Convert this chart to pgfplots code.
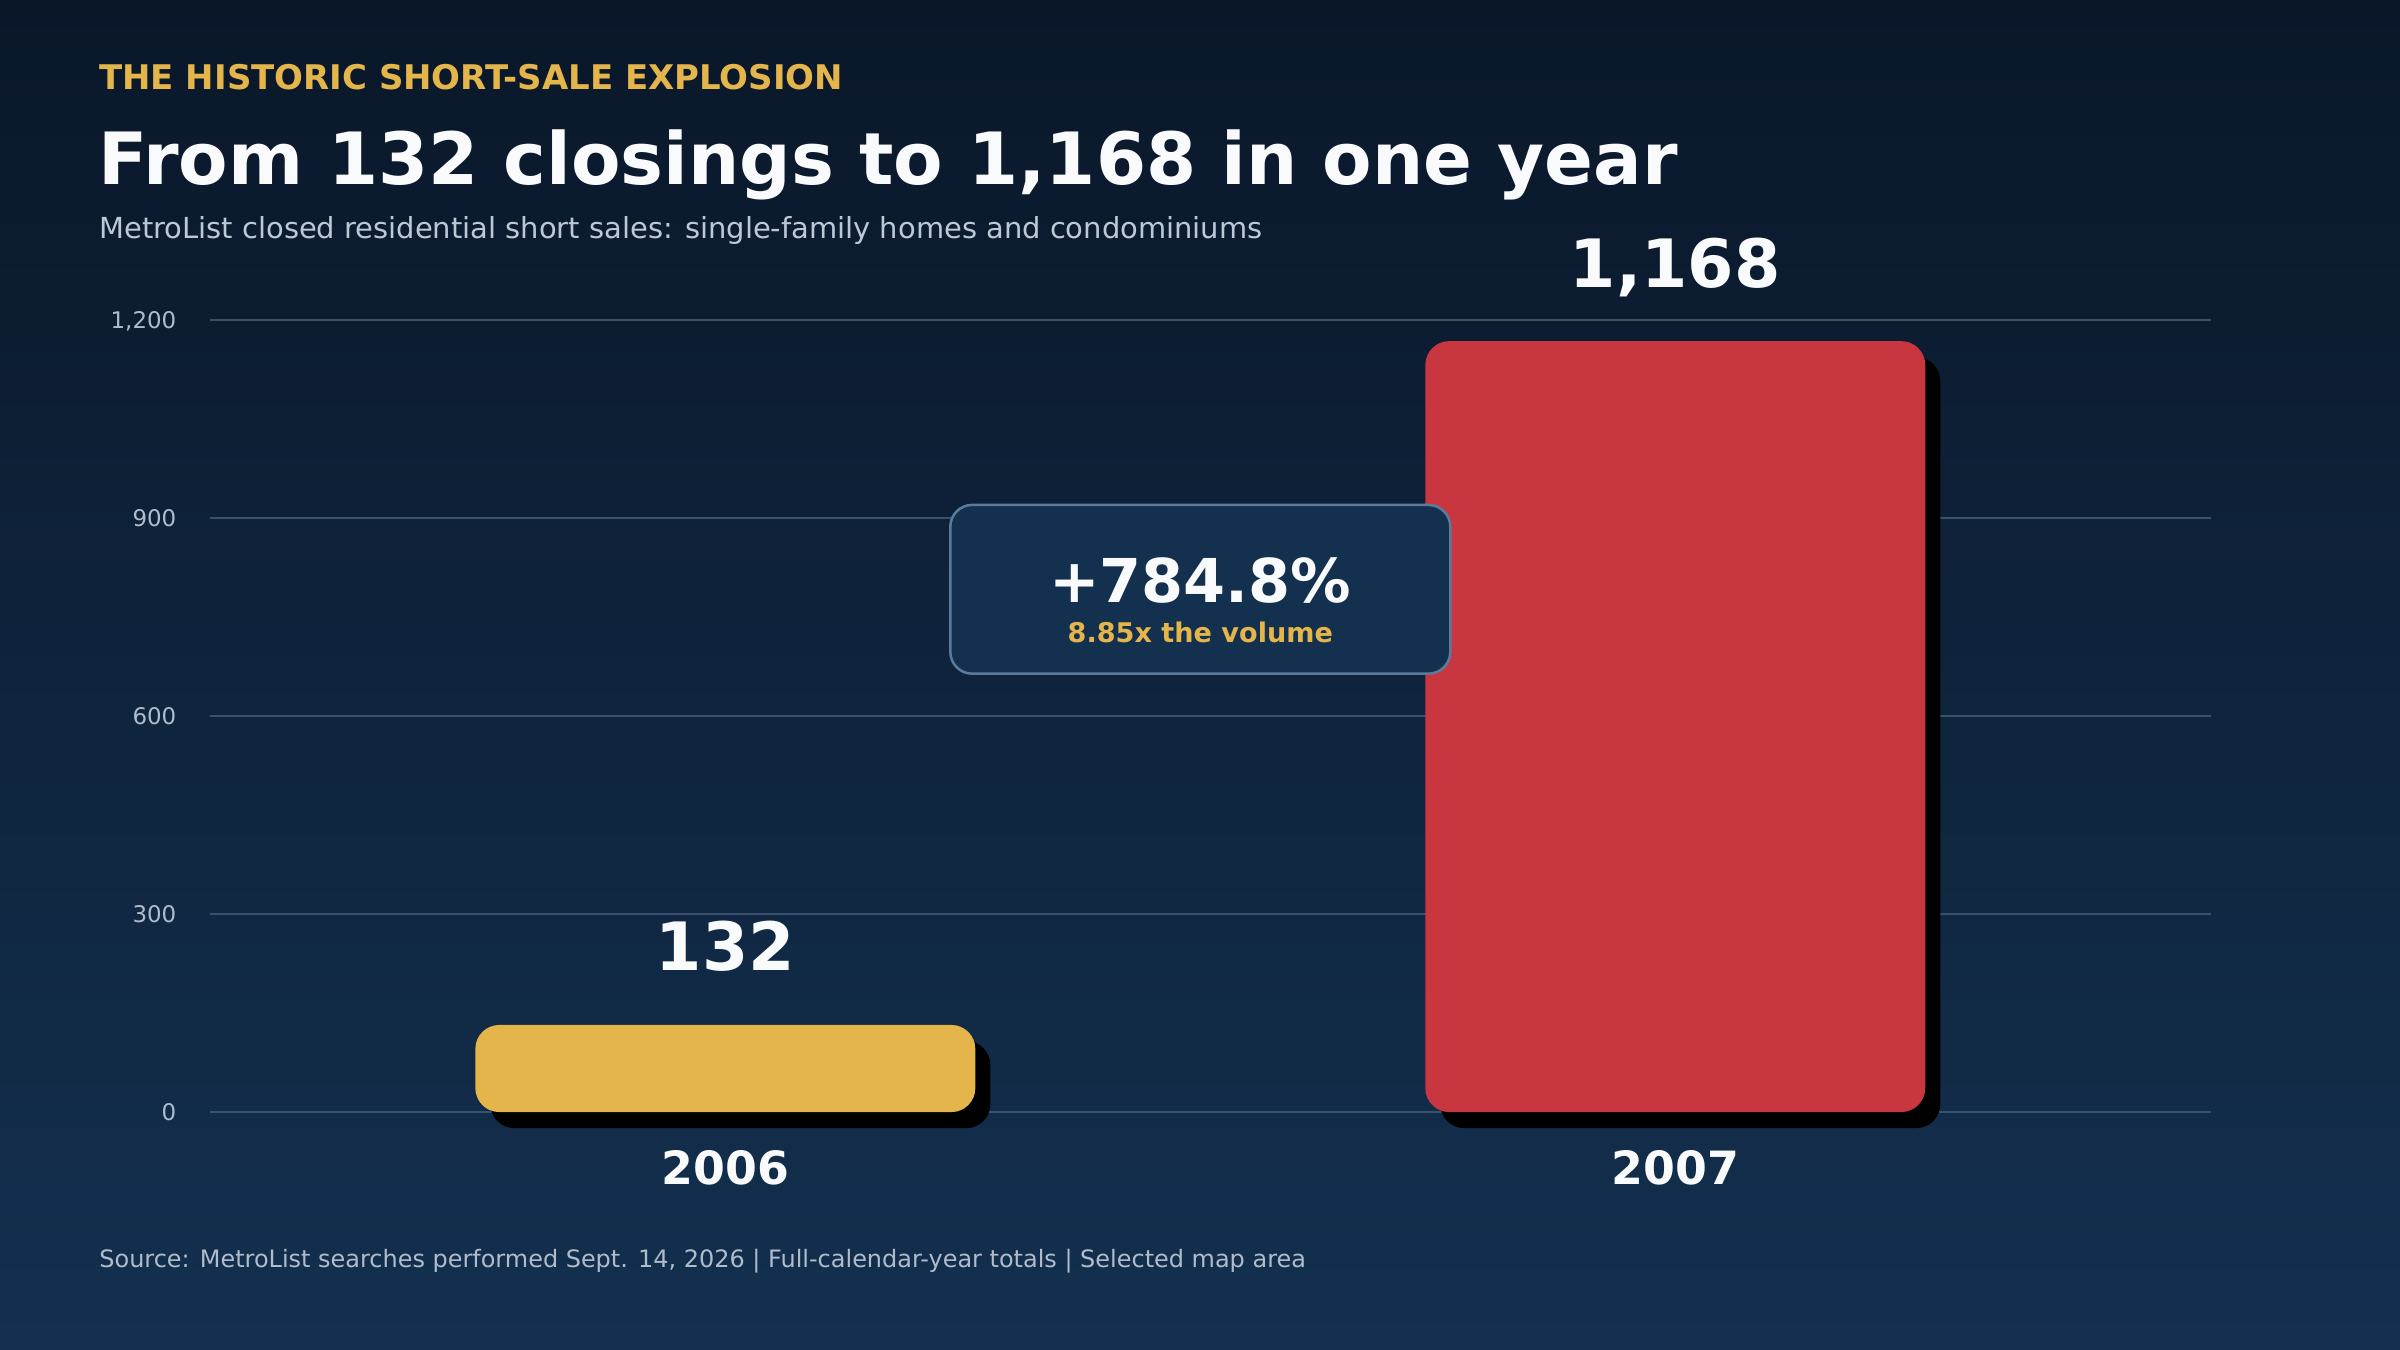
\documentclass[border=0pt]{standalone}
\usepackage{fontspec}
\setmainfont{DejaVu Sans}
\usepackage{pgfplots}
\pgfplotsset{compat=1.18}

\definecolor{bgtop}{HTML}{0A1729}
\definecolor{bgbot}{HTML}{13304F}
\definecolor{gold}{HTML}{E4B54A}
\definecolor{barred}{HTML}{C8363F}
\definecolor{txtwhite}{HTML}{F8FAFC}
\definecolor{subgray}{HTML}{BCC8D6}
\definecolor{tickc}{HTML}{AFBCCB}
\definecolor{gridc}{HTML}{3A5270}
\definecolor{boxfill}{HTML}{14304F}
\definecolor{boxline}{HTML}{5B7B9C}

\begin{document}
\begin{tikzpicture}
\useasboundingbox (0,0) rectangle (1152pt,648pt);
\shade[top color=bgtop, bottom color=bgbot] (0,0) rectangle (1152pt,648pt);

% header
\node[anchor=base west, inner sep=0pt, text=gold] at (47.5pt,604.8pt)
  {\fontsize{16.3}{19}\selectfont\bfseries THE HISTORIC SHORT-SALE EXPLOSION};
\node[anchor=base west, inner sep=0pt, text=txtwhite] at (47pt,559.2pt)
  {\fontsize{34.6}{40}\selectfont\bfseries From 132 closings to 1,168 in one year};
\node[anchor=base west, inner sep=0pt, text=subgray] at (47.5pt,533.3pt)
  {\fontsize{13.9}{16}\selectfont MetroList closed residential short sales: single-family homes and condominiums};
\node[anchor=base west, inner sep=0pt, text=tickc] at (47.5pt,39.4pt)
  {\fontsize{11.5}{13}\selectfont Source: MetroList searches performed Sept. 14, 2026 | Full-calendar-year totals | Selected map area};

\begin{axis}[
    at={(100.8pt,114.2pt)}, anchor=south west,
    scale only axis, width=960.5pt, height=380.2pt,
    xmin=-0.5425, xmax=1.564,
    ymin=0, ymax=1200,
    clip=false,
    axis line style={draw=none},
    tick style={draw=none},
    ytick={0,300,600,900,1200},
    ymajorgrids,
    grid style={color=gridc, line width=1.3pt},
    xtick={0,1},
    xticklabels={2006,2007},
    scaled y ticks=false,
    /pgf/number format/assume math mode=true,
    /pgf/number format/1000 sep={,},
    yticklabel style={font=\fontsize{11}{13}\selectfont, text=tickc,
        anchor=base east, inner sep=0pt, xshift=-16pt, yshift=-4pt},
    xticklabel style={font=\fontsize{22}{26}\selectfont\bfseries, text=txtwhite,
        anchor=base, inner sep=0pt, yshift=-35pt},
]
% 2006 shadow and bar
\addplot[ybar, bar width=240pt, bar shift=0pt, fill=black, draw=none,
    rounded corners=11.5pt, xshift=7.2pt, yshift=-7.7pt]
    coordinates {(0,132)};
\addplot[ybar, bar width=240pt, bar shift=0pt, fill=gold, draw=none,
    rounded corners=11.5pt, nodes near coords,
    every node near coord/.append style={font=\fontsize{32}{38}\selectfont\bfseries,
        text=txtwhite, anchor=base, inner sep=0pt, yshift=25.9pt}]
    coordinates {(0,132)};

% 2007 shadow and bar
\addplot[ybar, bar width=240pt, bar shift=0pt, fill=black, draw=none,
    rounded corners=11.5pt, xshift=7.2pt, yshift=-7.7pt]
    coordinates {(1,1168)};
\addplot[ybar, bar width=240pt, bar shift=0pt, fill=barred, draw=none,
    rounded corners=11.5pt, nodes near coords,
    every node near coord/.append style={font=\fontsize{32}{38}\selectfont\bfseries,
        text=txtwhite, anchor=base, inner sep=0pt, yshift=25.9pt}]
    coordinates {(1,1168)};

% callout, drawn over the 2007 bar
\node[draw=boxline, fill=boxfill, line width=1.2pt, rounded corners=10.5pt,
    minimum width=240pt, minimum height=81pt, inner sep=0pt] at (axis cs:0.5,792) {};
\node[anchor=base, inner sep=0pt, text=txtwhite] at (axis cs:0.5,772)
    {\fontsize{29}{34}\selectfont\bfseries +784.8\%};
\node[anchor=base, inner sep=0pt, text=gold] at (axis cs:0.5,712)
    {\fontsize{13}{16}\selectfont\bfseries 8.85x the volume};
\end{axis}
\end{tikzpicture}
\end{document}
